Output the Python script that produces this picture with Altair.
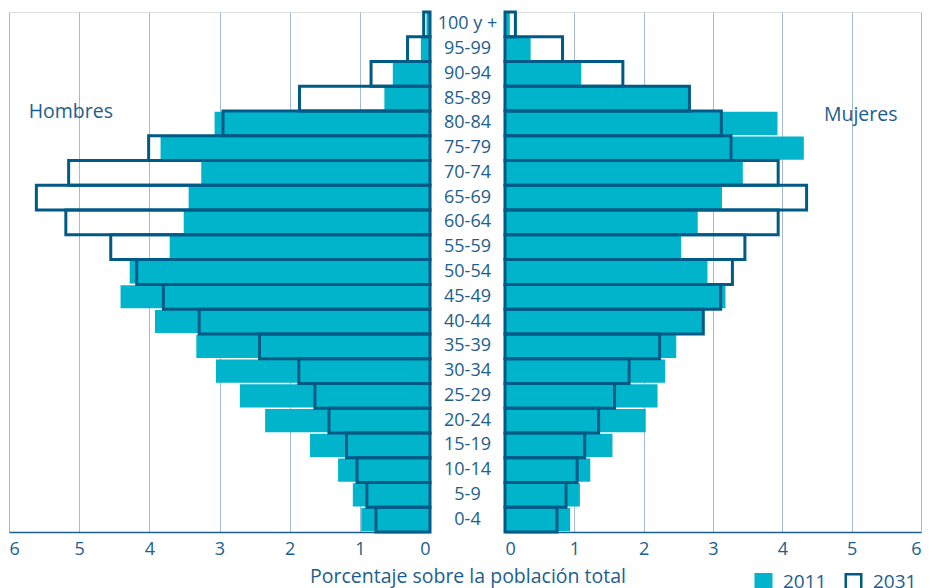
import altair as alt
import pandas as pd

ages = ["100 y +", "95-99", "90-94", "85-89", "80-84", "75-79", "70-74", "65-69",
        "60-64", "55-59", "50-54", "45-49", "40-44", "35-39", "30-34", "25-29",
        "20-24", "15-19", "10-14", "5-9", "0-4"]
men_2011 = [0.05, 0.13, 0.53, 0.65, 3.07, 3.84, 3.26, 3.44, 3.51, 3.71, 4.28,
            4.41, 3.92, 3.33, 3.05, 2.71, 2.35, 1.71, 1.31, 1.10, 0.98]
men_2031 = [0.09, 0.32, 0.84, 1.86, 2.95, 4.01, 5.15, 5.61, 5.19, 4.55, 4.18,
            3.80, 3.29, 2.43, 1.87, 1.64, 1.44, 1.19, 1.04, 0.90, 0.77]
women_2011 = [0.07, 0.37, 1.10, 2.66, 3.93, 4.31, 3.43, 3.13, 2.78, 2.54, 2.92,
              3.18, 2.85, 2.47, 2.31, 2.20, 2.03, 1.55, 1.23, 1.08, 0.94]
women_2031 = [0.15, 0.83, 1.70, 2.66, 3.12, 3.26, 3.94, 4.35, 3.94, 3.46, 3.28,
              3.11, 2.86, 2.23, 1.79, 1.58, 1.35, 1.15, 1.04, 0.88, 0.75]
years = ["2011", "2031"]
ticks = [0, 1, 2, 3, 4, 5, 6]

CYAN = "#00b4cc"
DARK = "#005a86"
TXT = "#1d5e8c"
GRID = "#a3bcd4"
FONT = "Open Sans"

rows = []
for sex, y11, y31 in [("H", men_2011, men_2031), ("M", women_2011, women_2031)]:
    for a, v11, v31 in zip(ages, y11, y31):
        rows.append({"age": a, "sex": sex, "year": years[0], "value": v11})
        rows.append({"age": a, "sex": sex, "year": years[1], "value": v31})
df = pd.DataFrame(rows)

y_enc = alt.Y("age:N", sort=ages, axis=None,
              scale=alt.Scale(paddingInner=0, paddingOuter=0))

def xaxis(flush=False):
    kw = dict(values=ticks, grid=True, gridColor=GRID, gridWidth=1,
              domainColor=TXT, domainWidth=1.6, ticks=False,
              labelFontSize=18, labelColor=TXT, labelFont=FONT,
              labelPadding=8, title=None)
    if flush:
        kw["labelFlush"] = True
    return alt.Axis(**kw)

# Left panel (Hombres)
xl_scale = alt.Scale(domain=[0, 6], reverse=True, nice=False, zero=True)
left_base = alt.Chart(df).transform_filter(alt.datum.sex == "H")
l11 = left_base.transform_filter(alt.datum.year == "2011").mark_bar(
    size=23.2, fill=CYAN, strokeWidth=0).encode(
    x=alt.X("value:Q", scale=xl_scale, axis=xaxis()), y=y_enc)
l31 = left_base.transform_filter(alt.datum.year == "2031").mark_bar(
    fillOpacity=0, stroke=DARK, strokeWidth=3).encode(
    x=alt.X("value:Q", scale=xl_scale, axis=xaxis()), y=y_enc)
hombres = alt.Chart(pd.DataFrame({"t": ["Hombres"], "value": [5.72]})).mark_text(
    align="left", baseline="middle", fontSize=19.5, color=TXT, font=FONT).encode(
    x=alt.X("value:Q", scale=xl_scale, axis=xaxis()), y=alt.value(100), text="t:N")
left = alt.layer(l11, l31, hombres).properties(width=421, height=520)

# Centre labels
center = alt.Chart(pd.DataFrame({"age": ages, "pos": [0.5] * len(ages)})).mark_text(
    fontSize=18, color=TXT, font=FONT, baseline="middle").encode(
    y=y_enc,
    x=alt.X("pos:Q", scale=alt.Scale(domain=[0, 1]),
            axis=alt.Axis(title="Porcentaje sobre la población total", labels=False,
                          ticks=False, domain=False, grid=False, titleFontSize=19.5,
                          titleColor=TXT, titleFont=FONT, titleFontWeight="normal",
                          titlePadding=35)),
    text="age:N").properties(width=75, height=520,
                             view=alt.ViewBackground(stroke="transparent"))

# Right panel (Mujeres)
xr_scale = alt.Scale(domain=[0, 6], nice=False, zero=True)
fill_scale = alt.Scale(domain=years, range=[CYAN, "transparent"])
stroke_scale = alt.Scale(domain=years, range=[CYAN, DARK])
leg = alt.Legend(title=None, orient="none", legendX=745, legendY=560,
                 direction="horizontal", symbolType="square", symbolSize=240,
                 symbolStrokeWidth=2.5, labelFontSize=19, labelColor=TXT,
                 labelFont=FONT, labelOffset=10, columnPadding=13, padding=0)
right_base = alt.Chart(df).transform_filter(alt.datum.sex == "M")
r11 = right_base.transform_filter(alt.datum.year == "2011").mark_bar(
    size=23.2, strokeWidth=0).encode(
    x=alt.X("value:Q", scale=xr_scale, axis=xaxis(True)), y=y_enc,
    fill=alt.Fill("year:N", scale=fill_scale, legend=leg),
    stroke=alt.Stroke("year:N", scale=stroke_scale, legend=leg))
r31 = right_base.transform_filter(alt.datum.year == "2031").mark_bar(
    strokeWidth=3).encode(
    x=alt.X("value:Q", scale=xr_scale, axis=xaxis(True)), y=y_enc,
    fill=alt.Fill("year:N", scale=fill_scale, legend=leg),
    stroke=alt.Stroke("year:N", scale=stroke_scale, legend=leg))
mujeres = alt.Chart(pd.DataFrame({"t": ["Mujeres"], "value": [4.6]})).mark_text(
    align="left", baseline="middle", fontSize=19.5, color=TXT, font=FONT).encode(
    x=alt.X("value:Q", scale=xr_scale, axis=xaxis(True)), y=alt.value(103), text="t:N")
right = alt.layer(r11, r31, mujeres).properties(width=416, height=520)

chart = alt.hconcat(left, center, right, spacing=0, bounds="flush").resolve_scale(
    x="independent").properties(
    padding={"left": 0, "top": 2, "right": 0, "bottom": 0}
).configure_view(stroke=GRID).configure(font=FONT)

chart.save("out.html", embed_options={"renderer": "svg", "actions": False})
